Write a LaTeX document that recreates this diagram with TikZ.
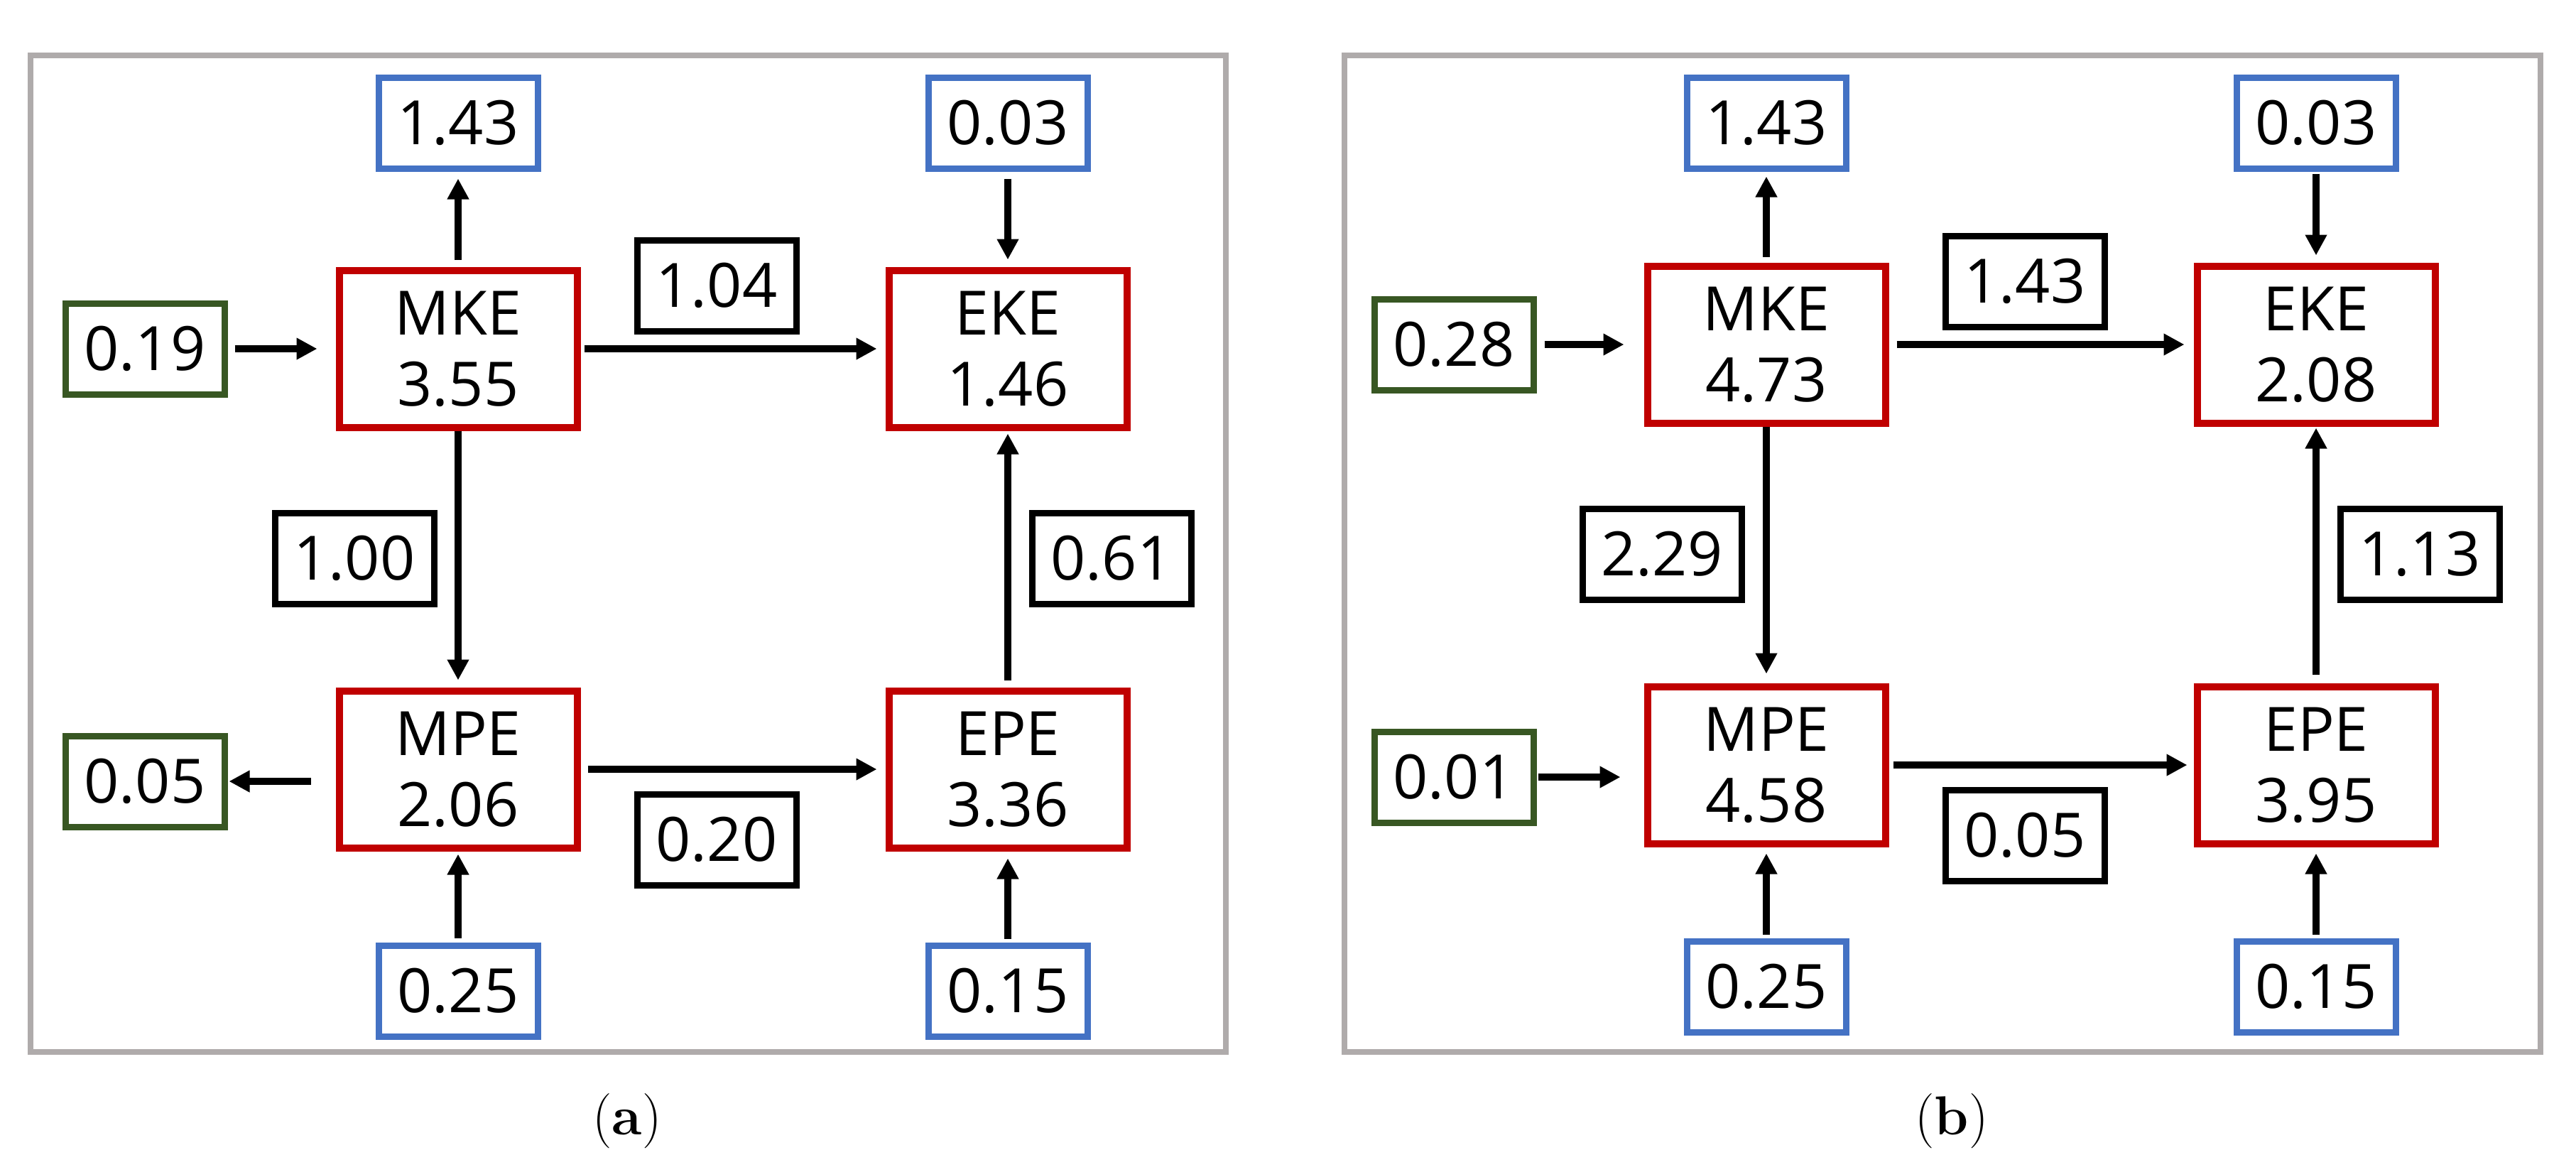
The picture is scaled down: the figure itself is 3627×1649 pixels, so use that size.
\documentclass[tikz,border=0pt]{standalone}
\usepackage{fontspec}
\newfontfamily\boxfont{Open Sans}
\usepackage{xcolor}
\usetikzlibrary{arrows.meta}
\definecolor{boxred}{HTML}{C00000}
\definecolor{boxblue}{HTML}{4472C4}
\definecolor{boxgreen}{HTML}{385723}
\definecolor{framegray}{HTML}{AFABAB}
\tikzset{
  numfont/.style={font=\boxfont\fontsize{24.5}{28.45}\selectfont},
  energybox/.style={numfont, draw=boxred, line width=1mm, minimum width=33.5mm, minimum height=22.1mm, inner sep=0pt, align=center},
  numbox/.style={numfont, line width=0.9mm, minimum width=22.4mm, minimum height=12.8mm, inner sep=0pt},
  extbox/.style={numbox, draw=boxblue},
  srcbox/.style={numbox, draw=boxgreen},
  convbox/.style={numbox, draw=black},
  flow/.style={line width=1mm, -{Triangle[width=2.9mm,length=2.9mm]}, shorten >=1mm, shorten <=1mm}
}

\begin{document}
\begin{tikzpicture}[x=0.1mm, y=-0.1mm]
  \useasboundingbox (0,0) rectangle (3627,1649);
  \draw [framegray, line width=0.8mm] (43,78) rectangle (1726,1481);
  \draw [framegray, line width=0.8mm] (1893,78) rectangle (3577,1481);
  \node (capA) at (883,1578) {\fontsize{22}{26}\selectfont(\textbf{a})};
  \node (capB) at (2748,1578) {\fontsize{22}{26}\selectfont(\textbf{b})};

  \node [energybox] (mkeA) at (645,491) {MKE\\3.55};
  \node [energybox] (ekeA) at (1419,491) {EKE\\1.46};
  \node [energybox] (mpeA) at (645,1083) {MPE\\2.06};
  \node [energybox] (epeA) at (1419,1083) {EPE\\3.36};
  \node [extbox] (dmkeA) at (645,173) {1.43};
  \node [extbox] (dekeA) at (1419,173) {0.03};
  \node [extbox] (dmpeA) at (645,1395) {0.25};
  \node [extbox] (depeA) at (1419,1395) {0.15};
  \node [srcbox] (gmkeA) at (204,491) {0.19};
  \node [srcbox] (gmpeA) at (204,1100) {0.05};
  \node [convbox] (ckeA) at (1009,402) {1.04};
  \node [convbox] (cmpA) at (499,786) {1.00};
  \node [convbox] (cepA) at (1565,786) {0.61};
  \node [convbox] (cpeA) at (1009,1182) {0.20};
  \draw [flow, shorten >=2.6mm] (gmkeA) -- (mkeA);
  \draw [flow] (mkeA) -- (dmkeA);
  \draw [flow, shorten <=0.5mm, shorten >=1.2mm] (mkeA) -- (ekeA);
  \draw [flow] (dekeA) -- (ekeA);
  \draw [flow, shorten <=0mm] (mkeA) -- (mpeA);
  \draw [flow, shorten >=0.4mm] (epeA) -- (ekeA);
  \draw [flow, shorten >=1.2mm] (mpeA) -- (epeA);
  \draw [flow, shorten <=3.5mm, shorten >=0.2mm] (mpeA.west |- gmpeA) -- (gmpeA);
  \draw [flow, shorten <=0.6mm, shorten >=0.4mm] (dmpeA) -- (mpeA);
  \draw [flow, shorten <=0.5mm] (depeA) -- (epeA);

  \begin{scope}[shift={(1842,-6)}]
    \node [energybox] (mkeB) at (645,491) {MKE\\4.73};
    \node [energybox] (ekeB) at (1419,491) {EKE\\2.08};
    \node [energybox] (mpeB) at (645,1083) {MPE\\4.58};
    \node [energybox] (epeB) at (1419,1083) {EPE\\3.95};
    \node [extbox] (dmkeB) at (645,179) {1.43};
    \node [extbox] (dekeB) at (1419,179) {0.03};
    \node [extbox] (dmpeB) at (645,1395) {0.25};
    \node [extbox] (depeB) at (1419,1395) {0.15};
    \node [srcbox] (gmkeB) at (205,491) {0.28};
    \node [srcbox] (gmpeB) at (205,1100) {0.01};
    \node [convbox] (ckeB) at (1009,402) {1.43};
    \node [convbox] (cmpB) at (498,786) {2.29};
    \node [convbox] (cepB) at (1565,786) {1.13};
    \node [convbox] (cpeB) at (1009,1182) {0.05};
    \draw [flow, shorten <=1.1mm, shorten >=2.8mm] (gmkeB) -- (mkeB);
    \draw [flow, shorten <=0.8mm, shorten >=0.7mm] (mkeB) -- (dmkeB);
    \draw [flow, shorten <=1.1mm, shorten >=1.3mm] (mkeB) -- (ekeB);
    \draw [flow, shorten <=0.3mm] (dekeB) -- (ekeB);
    \draw [flow, shorten <=0mm, shorten >=1.3mm] (mkeB) -- (mpeB);
    \draw [flow, shorten <=1.2mm, shorten >=0.2mm] (epeB) -- (ekeB);
    \draw [flow, shorten <=0.6mm, shorten >=0.9mm] (mpeB) -- (epeB);
    \draw [flow, shorten <=0.2mm, shorten >=3.3mm] (gmpeB) -- (mpeB.west |- gmpeB);
    \draw [flow, shorten <=0.5mm, shorten >=0.9mm] (dmpeB) -- (mpeB);
    \draw [flow, shorten <=0.5mm, shorten >=0.9mm] (depeB) -- (epeB);
  \end{scope}
\end{tikzpicture}
\end{document}
